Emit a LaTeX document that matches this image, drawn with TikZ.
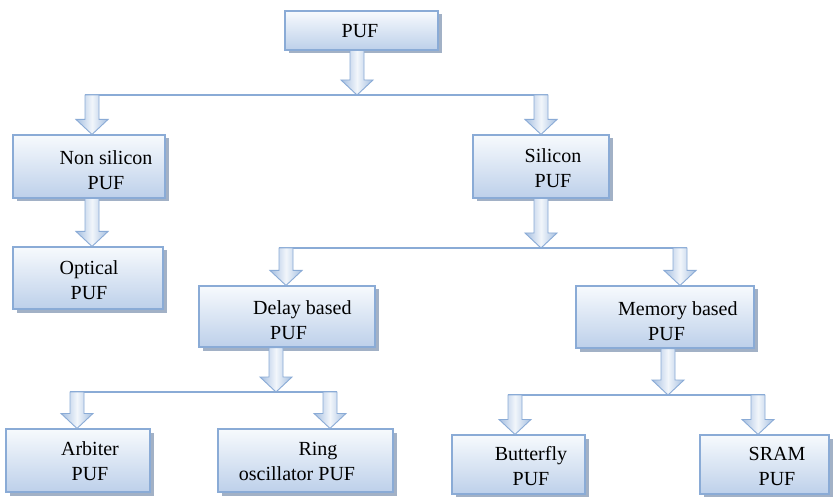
\documentclass[tikz,border=0pt]{standalone}
\usepackage{fontspec}
\setmainfont{Liberation Serif}
\usetikzlibrary{calc,shadows}

\definecolor{edgeblue}{HTML}{8AABD6}
\definecolor{boxtop}{HTML}{F7FAFD}
\definecolor{boxbottom}{HTML}{BDD0EA}
\definecolor{shadowblue}{HTML}{98A9C0}
\definecolor{arrowside}{HTML}{A4BEE0}
\definecolor{arrowmid}{HTML}{F2F6FB}

\tikzset{
  x=1pt, y=-1pt,
  box/.style={rectangle, draw=edgeblue, line width=1.1pt,
    top color=boxtop, bottom color=boxbottom,
    drop shadow={shadow xshift=3.5pt, shadow yshift=-3.5pt,
      fill=shadowblue, opacity=0.9}},
  txt/.style={font=\fontsize{20}{25}\selectfont, inner sep=0pt},
  bus/.style={draw=edgeblue, line width=1.3pt},
  blockarr/.style={draw=edgeblue, line width=0.9pt, line join=miter,
    left color=arrowside, right color=arrowside, middle color=arrowmid}
}

% block arrow from a start point straight down to a tip point
\newcommand\blockarrow[2]{%
  \draw[blockarr] let \p1=(#1), \p2=(#2) in
    (\x1-7pt,\y1) -- (\x1+7pt,\y1) -- (\x1+7pt,\y2+15pt) --
    (\x1+16pt,\y2+15pt) -- (\x1,\y2) -- (\x1-16pt,\y2+15pt) --
    (\x1-7pt,\y2+15pt) -- cycle;}

\begin{document}
\begin{tikzpicture}
\useasboundingbox[fill=white] (0,0) rectangle (833,497);

% boxes
\node[box, minimum width=153pt, minimum height=39pt] (puf)   at (361.5,30.5) {};
\node[box, minimum width=152pt, minimum height=63pt] (nonsi) at (89,166.5) {};
\node[box, minimum width=136pt, minimum height=63pt] (si)    at (541,166.5) {};
\node[box, minimum width=150pt, minimum height=62pt] (opt)   at (88,278) {};
\node[box, minimum width=176pt, minimum height=61pt] (delay) at (287,316.5) {};
\node[box, minimum width=178pt, minimum height=62pt] (mem)   at (665,317) {};
\node[box, minimum width=144pt, minimum height=63pt] (arb)   at (78,460.5) {};
\node[box, minimum width=175pt, minimum height=63pt] (ring)  at (305.5,460.5) {};
\node[box, minimum width=133pt, minimum height=59pt] (bfly)  at (518.5,464.5) {};
\node[box, minimum width=129pt, minimum height=59pt] (sram)  at (764.5,464.5) {};

% labels
\node[txt] (puf-t)   at (360,31) {PUF};
\node[txt, align=center] (nonsi-t) at (106,170) {Non silicon\\PUF};
\node[txt, align=center] (si-t)    at (553,168) {Silicon\\PUF};
\node[txt, align=center] (opt-t)   at (89,280) {Optical\\PUF};
\node[txt, align=left, anchor=west] (delay-t) at (253,320) {Delay based\\\hspace*{17pt}PUF};
\node[txt, align=left, anchor=west] (mem-t)   at (618,321) {Memory based\\\hspace*{30pt}PUF};
\node[txt, align=center] (arb-t)   at (90,461) {Arbiter\\PUF};
\node[txt, align=center] (ring-t)  at (297,461) {\hspace*{42pt}Ring\\oscillator PUF};
\node[txt, align=center] (bfly-t)  at (531,466) {Butterfly\\PUF};
\node[txt, align=center] (sram-t)  at (777,466) {SRAM\\PUF};

% bus junctions
\coordinate (b1)  at (357,95);
\coordinate (b1l) at (92,95);
\coordinate (b1r) at (541,95);
\coordinate (b2)  at (541,248);
\coordinate (b2l) at (286,248);
\coordinate (b2r) at (680,248);
\coordinate (b3)  at (276,392);
\coordinate (b3l) at (77,392);
\coordinate (b3r) at (330,392);
\coordinate (b4)  at (668,395);
\coordinate (b4l) at (515,395);
\coordinate (b4r) at (758,395);

% bus lines
\draw[bus] ($(b1l)+(-7,0)$) -- ($(b1r)+(7,0)$);
\draw[bus] ($(b2l)+(-7,0)$) -- ($(b2r)+(7,0)$);
\draw[bus] ($(b3l)+(-7,0)$) -- ($(b3r)+(7,0)$);
\draw[bus] ($(b4l)+(-7,0)$) -- ($(b4r)+(7,0)$);

% arrows into the buses
\blockarrow{puf.south -| b1}{b1}
\blockarrow{si.south -| b2}{b2}
\blockarrow{delay.south -| b3}{b3}
\blockarrow{mem.south -| b4}{b4}

% arrows out of the buses
\blockarrow{b1l}{b1l |- nonsi.north}
\blockarrow{b1r}{b1r |- si.north}
\blockarrow{b2l}{b2l |- delay.north}
\blockarrow{b2r}{b2r |- mem.north}
\blockarrow{b3l}{b3l |- arb.north}
\blockarrow{b3r}{b3r |- ring.north}
\blockarrow{b4l}{b4l |- bfly.north}
\blockarrow{b4r}{b4r |- sram.north}

% direct arrow
\blockarrow{nonsi.south -| b1l}{b1l |- opt.north}
\end{tikzpicture}
\end{document}
